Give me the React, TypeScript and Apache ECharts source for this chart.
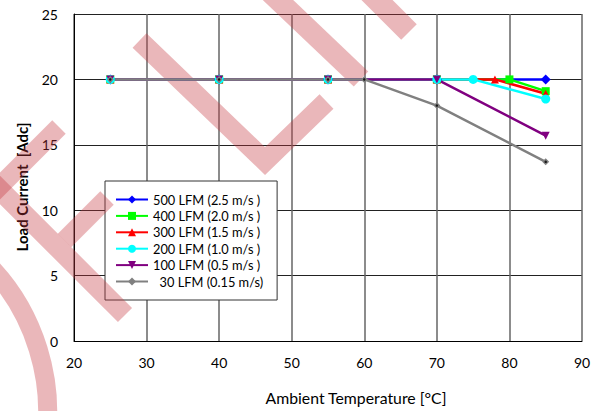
import React, { useEffect, useRef } from "react";
import * as echarts from "echarts";

const seriesNames = [
  "500 LFM (2.5 m/s )",
  "400 LFM (2.0 m/s )",
  "300 LFM (1.5 m/s )",
  "200 LFM (1.0 m/s )",
  "100 LFM (0.5 m/s )",
  "  30 LFM (0.15 m/s)",
];

const temps500 = [25, 40, 55, 70, 85];
const load500 = [20, 20, 20, 20, 20];
const temps400 = [25, 40, 55, 70, 80, 85];
const load400 = [20, 20, 20, 20, 20, 19.1];
const temps300 = [25, 40, 55, 70, 78, 85];
const load300 = [20, 20, 20, 20, 20, 18.9];
const temps200 = [25, 40, 55, 70, 75, 85];
const load200 = [20, 20, 20, 20, 20, 18.5];
const temps100 = [25, 40, 55, 70, 85];
const load100 = [20, 20, 20, 20, 15.7];
const temps30 = [25, 40, 55, 60, 70, 85];
const load30 = [20, 20, 20, 20, 18, 13.7];

const xTicks = [20, 30, 40, 50, 60, 70, 80, 90];
const yTicks = [0, 5, 10, 15, 20, 25];

const FONT = "Lato";
const PINK = "rgba(198,55,64,0.36)";

function band(points: number[][], width: number) {
  return {
    type: "polyline",
    z: 3,
    silent: true,
    shape: { points },
    style: { stroke: PINK, lineWidth: width, fill: null, lineJoin: "miter", lineCap: "butt" },
  };
}

export default function App() {
  const ref = useRef<HTMLDivElement>(null);
  useEffect(() => {
    if (!ref.current) return;
    const chart = echarts.init(ref.current, undefined, { renderer: "svg" });
    const pair = (xs: number[], ys: number[]) => xs.map((x, i) => [x, ys[i]]);
    const mk = (name: string, data: number[][], color: string, symbol: string, size: number) => ({
      name,
      type: "line",
      data,
      color,
      symbol,
      symbolSize: size,
      z: 5,
      lineStyle: { width: 2.5, color },
      itemStyle: { color },
    });
    chart.setOption({
      animation: false,
      backgroundColor: "#fff",
      textStyle: { fontFamily: FONT },
      grid: { left: 74, right: 19, top: 14, bottom: 70, containLabel: false },
      legend: {
        data: seriesNames,
        orient: "vertical",
        left: 105,
        top: 181,
        z: 2,
        padding: [12, 14, 12, 10],
        itemGap: 3.4,
        itemWidth: 32,
        itemHeight: 10,
        backgroundColor: "#fff",
        borderColor: "#333",
        borderWidth: 1,
        textStyle: { fontFamily: FONT, fontSize: 12.8, color: "#000" },
      },
      xAxis: {
        type: "value",
        min: xTicks[0],
        max: xTicks[xTicks.length - 1],
        interval: 10,
        name: "Ambient Temperature [°C]",
        nameLocation: "middle",
        nameGap: 48,
        nameTextStyle: { fontFamily: FONT, fontSize: 15.8, color: "#000", padding: [0, 0, 0, 56] },
        axisLine: { show: true, lineStyle: { color: "#000", width: 1 } },
        axisTick: { show: false },
        axisLabel: { color: "#000", fontSize: 14, margin: 14, fontFamily: FONT },
        splitLine: { show: true, lineStyle: { color: "#666", width: 1.5 } },
      },
      yAxis: {
        type: "value",
        min: yTicks[0],
        max: yTicks[yTicks.length - 1],
        interval: 5,
        name: "Load Current  [Adc]",
        nameLocation: "middle",
        nameGap: 45,
        nameRotate: 90,
        nameTextStyle: { fontFamily: FONT, fontSize: 15, fontWeight: "bold", color: "#000", padding: [0, 19, 0, 0] },
        axisLine: { show: true, lineStyle: { color: "#000", width: 1 } },
        axisTick: { show: false },
        axisLabel: { color: "#000", fontSize: 14, margin: 16, fontFamily: FONT },
        splitLine: { show: true, lineStyle: { color: "#222", width: 1 } },
      },
      graphic: [
        band([[139.5, 40.5], [265, 161], [326.5, 101.5]], 20),
        band([[258, -19], [361, 79]], 21),
        band([[360, -17], [409, 32]], 22),
        band([[59, 127], [-20, 206]], 19),
        band([[-20, 170], [125, 315]], 20),
        band([[107, 198], [64.5, 240.5]], 19),
        {
          type: "arc",
          z: 3,
          silent: true,
          shape: { cx: -162, cy: 411, r: 209.5, startAngle: -0.9, endAngle: 0.3, clockwise: true },
          style: { stroke: PINK, lineWidth: 19, fill: null },
        },
      ],
      series: [
        mk(seriesNames[0], pair(temps500, load500), "#0000ff", "diamond", 10),
        mk(seriesNames[1], pair(temps400, load400), "#00ff00", "rect", 8),
        mk(seriesNames[2], pair(temps300, load300), "#ff0000", "triangle", 8),
        mk(seriesNames[3], pair(temps200, load200), "#00ffff", "circle", 9),
        mk(seriesNames[4], pair(temps100, load100), "#800080", "path://M0,0L10,0L5,9Z", 8),
        mk(seriesNames[5], pair(temps30, load30), "#808080", "diamond", 7),
        {
          name: "30 LFM dots",
          type: "scatter",
          data: pair(temps30, load30),
          symbol: "circle",
          symbolSize: 2.5,
          z: 6,
          silent: true,
          itemStyle: { color: "#000" },
        },
      ],
    });
    return () => chart.dispose();
  }, []);
  return <div ref={ref} style={{ position: "fixed", left: 0, top: 0, width: 601, height: 411 }} />;
}
